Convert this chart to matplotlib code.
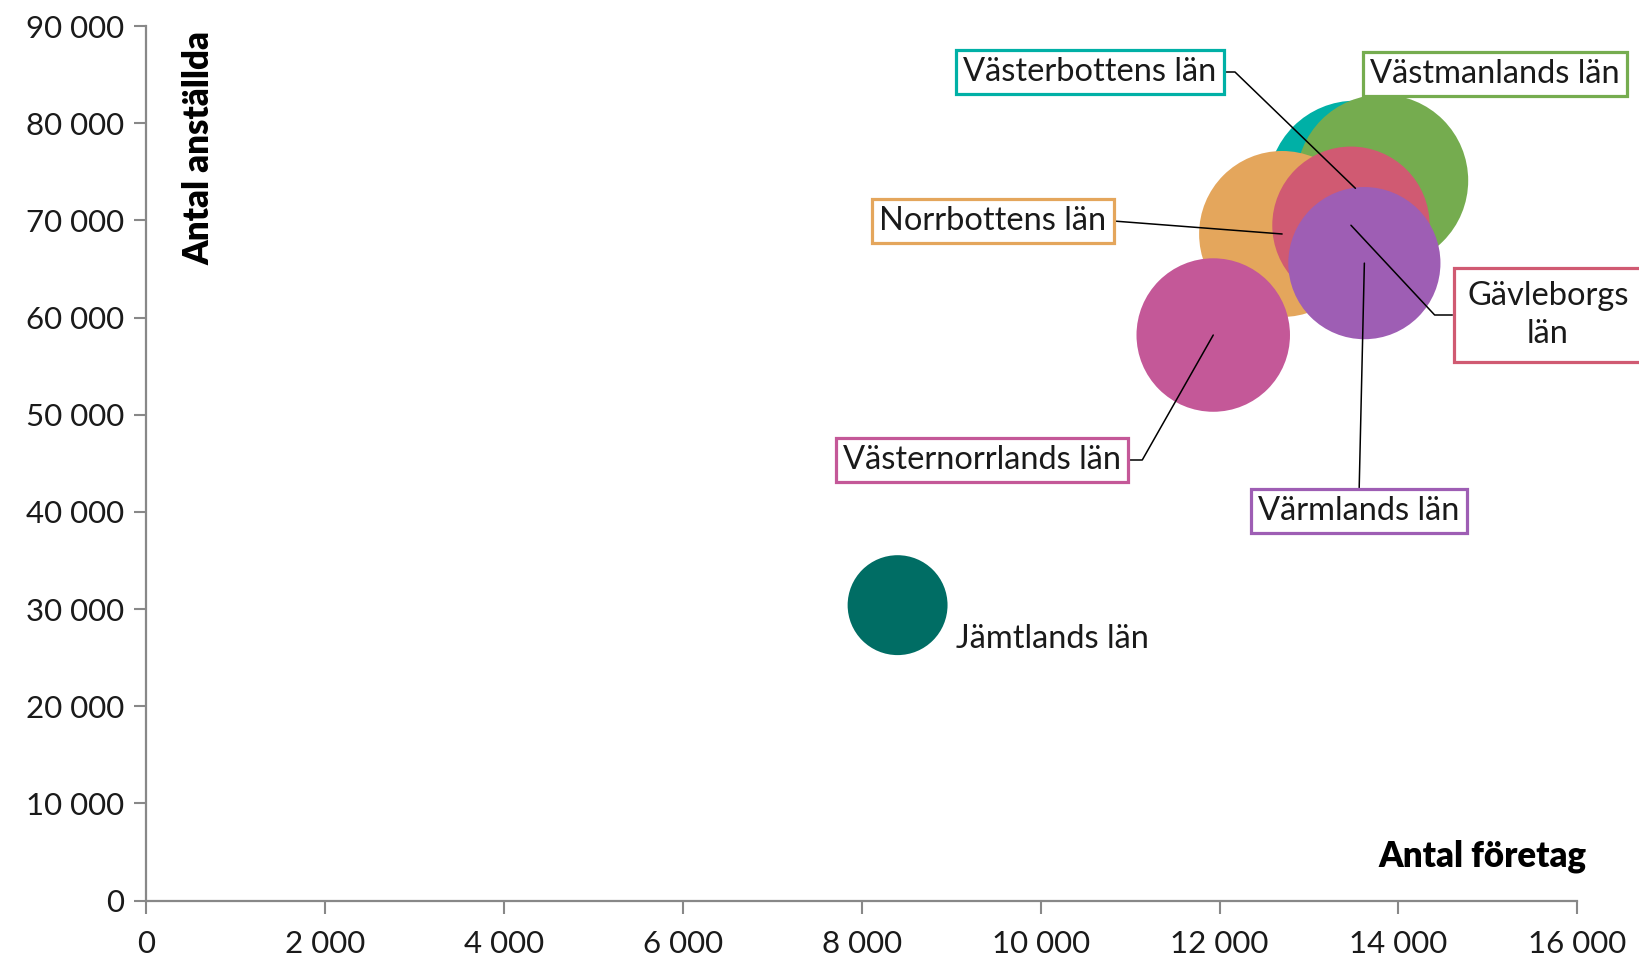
import matplotlib
matplotlib.use('Agg')
import matplotlib.pyplot as plt
from matplotlib.ticker import FuncFormatter

plt.rcParams['font.family'] = ['Lato', 'DejaVu Sans']

# data (drawn in this order, back to front)
lan = ['Västerbottens län', 'Västmanlands län', 'Norrbottens län', 'Gävleborgs län',
       'Värmlands län', 'Västernorrlands län', 'Jämtlands län']
foretag = [13520, 13820, 12700, 13470, 13620, 11930, 8400]
anstallda = [73300, 74100, 68600, 69500, 65600, 58200, 30400]
storlek = [7700, 7400, 6900, 6200, 5800, 5900, 2500]
farger = ['#00B0A6', '#75AC4F', '#E4A65C', '#D05A72', '#9E5EB4', '#C45898', '#006D64']

xticks = list(range(0, 16001, 2000))
yticks = list(range(0, 90001, 10000))

fig = plt.figure(figsize=(16.4, 9.58), dpi=100)
ax = fig.add_axes([0.0893, 0.0600, 0.8724, 0.9128])

ax.scatter(foretag, anstallda, s=[v * 2.07 for v in storlek], c=farger,
           linewidths=0, zorder=2)

ax.set_xlim(0, 16000)
ax.set_ylim(0, 90000)
ax.set_xticks(xticks)
ax.set_yticks(yticks)
fmt = FuncFormatter(lambda v, p: f'{int(v):,}'.replace(',', ' '))
ax.xaxis.set_major_formatter(fmt)
ax.yaxis.set_major_formatter(fmt)
ax.tick_params(axis='both', labelsize=22.5, colors='#888888', labelcolor='#1a1a1a',
               length=9, width=1.5)
ax.tick_params(axis='x', pad=12)
ax.tick_params(axis='y', pad=7)
for side in ['top', 'right']:
    ax.spines[side].set_visible(False)
for side in ['left', 'bottom']:
    ax.spines[side].set_color('#888888')
    ax.spines[side].set_linewidth(1.6)

fig.text(199 / 1640, 1 - 31 / 958, 'Antal anställda', rotation=90, fontsize=25,
         fontweight='heavy', ha='center', va='top')
fig.text(1586 / 1640, 1 - 856 / 958, 'Antal företag', fontsize=25,
         fontweight='heavy', ha='right', va='center')

H = 958
# label placement: (text centre x, y from top), relpos, connectionstyle, box pad
etiketter = {
    'Västerbottens län': ((1090, 72), (1, 0.5), 'angle,angleA=0,angleB=136,rad=0', 0.22),
    'Västmanlands län': ((1495, 74), None, None, 0.22),
    'Norrbottens län': ((993, 221), (1, 0.5), 'angle,angleA=0,angleB=175.6,rad=0', 0.22),
    'Gävleborgs län': ((1548, 315), (0, 0.5), 'angle,angleA=180,angleB=-47,rad=0', 0.42),
    'Värmlands län': ((1359, 511), (0.5, 1), 'arc3,rad=0', 0.22),
    'Västernorrlands län': ((982, 460), (1, 0.5), 'angle,angleA=0,angleB=-119.6,rad=0', 0.22),
}

for namn, x, y, f in zip(lan, foretag, anstallda, farger):
    if namn not in etiketter:
        ax.annotate(namn, xy=(x, y), xytext=(956, H - 639), textcoords='figure pixels',
                    fontsize=23.5, ha='left', va='center', color='#1a1a1a')
        continue
    (tx, ty), relpos, cs, pad = etiketter[namn]
    txt = namn.replace(' län', '\nlän') if namn == 'Gävleborgs län' else namn
    arrow = None
    if cs is not None:
        arrow = dict(arrowstyle='-', color='black', lw=1.1, shrinkA=0, shrinkB=0,
                     relpos=relpos, connectionstyle=cs)
    ax.annotate(txt, xy=(x, y), xytext=(tx, H - ty), textcoords='figure pixels',
                fontsize=23.5, ha='center', va='center', color='#1a1a1a',
                linespacing=1.3, annotation_clip=False,
                bbox=dict(boxstyle=f'square,pad={pad}', fc='white', ec=f, lw=2.3),
                arrowprops=arrow, zorder=5)

fig.savefig('out.png', dpi=100)
